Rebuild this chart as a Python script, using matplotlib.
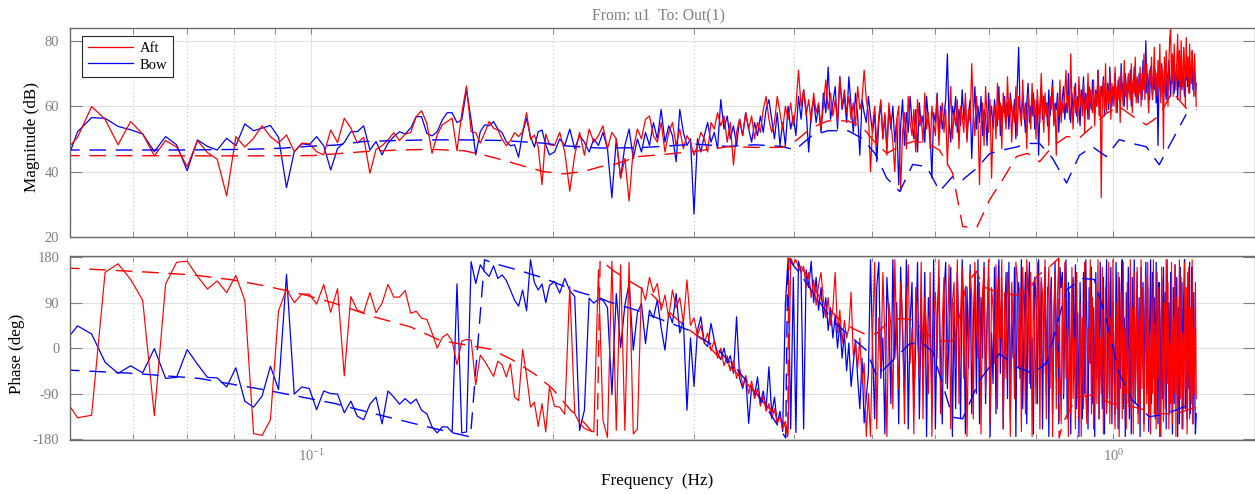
import matplotlib
matplotlib.use("Agg")
import matplotlib.pyplot as plt
from matplotlib.ticker import NullFormatter

plt.rcParams['font.family'] = ['Liberation Serif', 'DejaVu Serif']
plt.rcParams['mathtext.fontset'] = 'custom'
plt.rcParams['mathtext.rm'] = 'Liberation Serif'
plt.rcParams['mathtext.it'] = 'Liberation Serif:italic'
plt.rcParams['axes.unicode_minus'] = False

# --- measured frequency grid (Hz) ---
freq_low = [0.0490, 0.0511, 0.0532, 0.0553, 0.0574, 0.0595, 0.0616, 0.0637, 0.0658, 0.0679,
            0.0700, 0.0721, 0.0742, 0.0763, 0.0784, 0.0805, 0.0826, 0.0847, 0.0868, 0.0889,
            0.0910, 0.0931, 0.0952, 0.0973, 0.0994, 0.1015, 0.1036, 0.1057, 0.1078, 0.1099,
            0.1120, 0.1141, 0.1162, 0.1183, 0.1204, 0.1225, 0.1246, 0.1267, 0.1288, 0.1309,
            0.1330, 0.1351, 0.1372, 0.1393, 0.1414, 0.1435, 0.1456, 0.1477, 0.1498, 0.1519,
            0.1540, 0.1561, 0.1582, 0.1603, 0.1624, 0.1645, 0.1666, 0.1687, 0.1708, 0.1729,
            0.1750, 0.1771, 0.1792, 0.1813, 0.1834, 0.1855, 0.1876, 0.1897, 0.1918, 0.1939,
            0.1960, 0.1981]
freq_mid = [0.201, 0.204, 0.207, 0.210, 0.213, 0.216, 0.219, 0.222, 0.225, 0.228,
            0.231, 0.234, 0.237, 0.240, 0.243, 0.246, 0.249, 0.252, 0.255, 0.258,
            0.261, 0.264, 0.267, 0.270, 0.273, 0.276, 0.279, 0.282, 0.285, 0.288,
            0.291, 0.294, 0.297, 0.300, 0.303, 0.306, 0.309, 0.312, 0.315, 0.318,
            0.321, 0.324, 0.327, 0.330, 0.333, 0.336, 0.339, 0.342, 0.345, 0.348,
            0.351, 0.354, 0.357, 0.360, 0.363, 0.366, 0.369, 0.372, 0.375, 0.378,
            0.381, 0.384, 0.387, 0.390, 0.393, 0.396, 0.399, 0.402, 0.405, 0.408,
            0.411, 0.414, 0.417, 0.420, 0.423, 0.426, 0.429, 0.432, 0.435, 0.438,
            0.441, 0.444, 0.447, 0.450, 0.453, 0.456, 0.459, 0.462, 0.465, 0.468,
            0.471, 0.474, 0.477, 0.480, 0.483, 0.486, 0.489, 0.492, 0.495, 0.498]
freq_high = [0.501, 0.504, 0.507, 0.510, 0.513, 0.516, 0.519, 0.522, 0.525, 0.528,
             0.531, 0.534, 0.537, 0.540, 0.543, 0.546, 0.549, 0.552, 0.555, 0.558,
             0.561, 0.564, 0.567, 0.570, 0.573, 0.576, 0.579, 0.582, 0.585, 0.588,
             0.591, 0.594, 0.597, 0.600, 0.603, 0.606, 0.609, 0.612, 0.615, 0.618,
             0.621, 0.624, 0.627, 0.630, 0.633, 0.636, 0.639, 0.642, 0.645, 0.648,
             0.651, 0.654, 0.657, 0.660, 0.663, 0.666, 0.669, 0.672, 0.675, 0.678,
             0.681, 0.684, 0.687, 0.690, 0.693, 0.696, 0.699, 0.702, 0.705, 0.708,
             0.711, 0.714, 0.717, 0.720, 0.723, 0.726, 0.729, 0.732, 0.735, 0.738,
             0.741, 0.744, 0.747, 0.750, 0.753, 0.756, 0.759, 0.762, 0.765, 0.768,
             0.771, 0.774, 0.777, 0.780, 0.783, 0.786, 0.789, 0.792, 0.795, 0.798,
             0.801, 0.804, 0.807, 0.810, 0.813, 0.816, 0.819, 0.822, 0.825, 0.828,
             0.831, 0.834, 0.837, 0.840, 0.843, 0.846, 0.849, 0.852, 0.855, 0.858,
             0.861, 0.864, 0.867, 0.870, 0.873, 0.876, 0.879, 0.882, 0.885, 0.888,
             0.891, 0.894, 0.897, 0.900, 0.903, 0.906, 0.909, 0.912, 0.915, 0.918,
             0.921, 0.924, 0.927, 0.930, 0.933, 0.936, 0.939, 0.942, 0.945, 0.948,
             0.951, 0.954, 0.957, 0.960, 0.963, 0.966, 0.969, 0.972, 0.975, 0.978,
             0.981, 0.984, 0.987, 0.990, 0.993, 0.996, 0.999, 1.002, 1.005, 1.008,
             1.011, 1.014, 1.017, 1.020, 1.023, 1.026, 1.029, 1.032, 1.035, 1.038,
             1.041, 1.044, 1.047, 1.050, 1.053, 1.056, 1.059, 1.062, 1.065, 1.068,
             1.071, 1.074, 1.077, 1.080, 1.083, 1.086, 1.089, 1.092, 1.095, 1.098,
             1.101, 1.104, 1.107, 1.110, 1.113, 1.116, 1.119, 1.122, 1.125, 1.128,
             1.131, 1.134, 1.137, 1.140, 1.143, 1.146, 1.149, 1.152, 1.155, 1.158,
             1.161, 1.164, 1.167, 1.170, 1.173, 1.176, 1.179, 1.182, 1.185, 1.188,
             1.191, 1.194, 1.197, 1.200, 1.203, 1.206, 1.209, 1.212, 1.215, 1.218,
             1.221, 1.224, 1.227, 1.230, 1.233, 1.236, 1.239, 1.242, 1.245, 1.248,
             1.251, 1.254, 1.257, 1.260, 1.263, 1.266, 1.269]

# --- magnitude (dB) ---
aft_mag_low = [45.5, 50.5, 59.9, 56.0, 48.2, 55.3, 51.5, 44.8, 49.5, 47.5,
               41.5, 49.5, 45.8, 43.8, 32.6, 50.7, 47.5, 50.2, 54.0, 50.7,
               48.7, 51.2, 46.1, 48.7, 48.5, 46.1, 45.1, 52.7, 48.9, 56.3,
               53.3, 48.7, 50.5, 39.5, 46.8, 47.9, 49.7, 51.9, 49.5, 51.5,
               51.9, 56.8, 58.6, 54.8, 45.6, 51.2, 54.3, 55.3, 56.3, 46.4,
               57.8, 66.2, 52.2, 51.9, 48.7, 51.9, 55.3, 53.3, 52.7, 49.9,
               47.9, 49.5, 51.9, 50.7, 52.2, 58.0, 49.9, 51.2, 47.5, 36.0,
               51.5, 48.2]
aft_mag_mid = [48, 52, 46, 34, 45, 52, 45, 53, 49, 51,
               54, 47, 52, 50, 38, 44, 31, 47, 53, 50,
               56, 57, 51, 49, 55, 46, 52, 55, 48, 53,
               47, 51, 49, 45, 48, 52, 50, 46, 55, 53,
               58, 54, 57, 49, 55, 42, 52, 56, 51, 58,
               53, 57, 50, 55, 52, 59, 63, 56, 52, 55,
               63, 58, 53, 60, 56, 61, 54, 60, 71, 60,
               65, 57, 62, 55, 64, 58, 61, 53, 60, 68,
               59, 64, 57, 62, 55, 69, 60, 65, 58, 63,
               56, 61, 54, 66, 59, 62, 71, 62, 58, 40]
aft_mag_high = [54, 60, 48, 57, 62, 50, 58, 45, 61, 55,
                49, 40, 56, 60, 34, 52, 58, 47, 63, 55,
                51, 59, 46, 62, 54, 57, 49, 64, 53, 58,
                47, 60, 55, 51, 63, 48, 57, 61, 52, 59,
                42, 56, 66, 50, 58, 54, 62, 47, 60, 57,
                52, 64, 49, 59, 55, 73, 58, 51, 63, 56,
                36, 54, 61, 48, 66, 57, 52, 62, 38, 55,
                60, 50, 67, 56, 61, 47, 64, 58, 53, 69,
                57, 62, 49, 60, 55, 66, 51, 63, 58, 54,
                68, 56, 61, 47, 64, 59, 53, 67, 57, 62,
                50, 65, 58, 55, 70, 60, 52, 64, 57, 61,
                48, 63, 59, 66, 54, 60, 45, 62, 57, 68,
                55, 61, 58, 64, 71, 59, 63, 56, 76, 60,
                53, 66, 58, 62, 55, 69, 60, 64, 57, 67,
                52, 63, 59, 70, 56, 65, 61, 58, 68, 54,
                64, 60, 71, 57, 66, 32, 62, 68, 59, 73,
                58, 65, 61, 70, 56, 67, 63, 60, 72, 58,
                66, 62, 69, 55, 71, 64, 60, 74, 63, 67,
                59, 70, 65, 62, 73, 58, 68, 64, 75, 61,
                69, 63, 66, 72, 60, 70, 65, 76, 62, 68,
                73, 64, 58, 71, 67, 75, 62, 69, 78, 65,
                70, 63, 74, 66, 79, 61, 72, 68, 47, 75,
                64, 77, 69, 60, 73, 81, 84, 67, 76, 63,
                79, 70, 65, 74, 82, 68, 77, 62, 80, 71,
                66, 78, 73, 60, 81, 69, 75, 64, 79, 70,
                67, 77, 72, 63, 76, 68, 60]
bow_mag_low = [40.0, 52.2, 56.5, 56.3, 53.8, 52.8, 51.5, 46.1, 50.7, 48.2,
               40.3, 49.7, 47.7, 46.6, 50.2, 47.9, 54.6, 52.5, 53.3, 54.1,
               50.5, 35.1, 46.1, 48.5, 48.2, 50.7, 47.9, 40.5, 47.1, 48.9,
               52.2, 52.2, 54.0, 46.6, 49.2, 45.1, 48.7, 50.7, 52.2, 51.5,
               53.3, 56.8, 56.8, 51.7, 50.9, 52.2, 55.8, 58.0, 58.0, 55.0,
               55.8, 65.0, 55.8, 45.1, 52.2, 54.3, 54.0, 55.3, 53.0, 51.9,
               49.2, 47.9, 48.2, 44.4, 51.9, 56.3, 50.7, 47.5, 52.2, 52.7,
               48.2, 45.1]
bow_mag_mid = [46, 50, 48, 53, 47, 51, 49, 46, 50, 48,
               52, 47, 32, 50, 38, 48, 53, 44, 50, 46,
               52, 48, 55, 50, 59, 49, 54, 51, 43, 59,
               52, 48, 50, 27, 50, 46, 51, 55, 49, 52,
               47, 62, 53, 57, 50, 54, 48, 56, 51, 58,
               53, 49, 55, 51, 57, 52, 59, 62, 56, 50,
               58, 48, 55, 48, 60, 53, 57, 51, 63, 56,
               65, 59, 46, 58, 62, 55, 60, 52, 64, 58,
               72, 56, 61, 66, 53, 69, 59, 63, 55, 69,
               60, 52, 64, 57, 45, 62, 58, 55, 63, 57]
bow_mag_high = [52, 58, 43, 55, 61, 50, 57, 47, 59, 53,
                60, 49, 56, 36, 54, 62, 48, 58, 52, 63,
                55, 50, 59, 46, 61, 54, 57, 49, 63, 56,
                52, 38, 58, 55, 64, 50, 60, 53, 57, 62,
                76, 55, 49, 60, 57, 63, 52, 59, 54, 65,
                56, 61, 50, 58, 62, 44, 57, 66, 53, 60,
                55, 63, 51, 59, 57, 48, 64, 56, 60, 53,
                62, 57, 54, 66, 51, 60, 58, 63, 55, 61,
                53, 64, 59, 57, 62, 50, 66, 78, 60, 56,
                63, 58, 52, 61, 67, 55, 60, 57, 64, 53,
                59, 62, 45, 60, 66, 56, 63, 58, 61, 54,
                65, 57, 62, 68, 55, 61, 59, 64, 52, 60,
                57, 63, 66, 56, 61, 58, 70, 60, 55, 64,
                59, 62, 67, 57, 63, 60, 54, 65, 61, 69,
                58, 64, 62, 56, 66, 61, 59, 68, 63, 57,
                65, 60, 71, 62, 58, 66, 63, 69, 57, 64,
                61, 67, 59, 72, 63, 60, 66, 62, 70, 64,
                58, 68, 65, 61, 73, 63, 67, 60, 70, 66,
                62, 69, 64, 71, 60, 67, 65, 72, 63, 68,
                66, 61, 70, 64, 68, 62, 74, 65, 69, 80,
                64, 70, 66, 62, 72, 67, 63, 69, 65, 71,
                61, 68, 48, 66, 70, 63, 73, 67, 64, 71,
                66, 62, 70, 65, 74, 68, 63, 71, 67, 75,
                64, 70, 68, 73, 62, 69, 66, 74, 70, 65,
                72, 67, 63, 71, 68, 75, 66, 70, 64, 72,
                68, 74, 65, 71, 69, 63, 67]

# --- phase (deg) ---
aft_ph_low = [-95, -138, -133, 150, 167, 136, 95, -134, 127, 170,
              172, 142, 117, 133, 110, 144, 94, -169, -173, -142,
              74, 117, 90, 107, 107, 87, 126, 71, 118, -55,
              102, 75, 70, 110, 70, 89, 126, 101, 101, 114,
              69, 73, 59, 57, 30, 0, 21, 28, 14, -33,
              14, 17, 16, -73, -14, -26, -41, -56, -26, -33,
              -57, -31, -97, -104, -3, -54, -117, -107, -155, -110,
              -166, -77]
aft_ph_mid = [-115, -117, -131, 122, -130, -149, -159, -163, -166, 155,
              -143, -177, 172, -163, 165, -163, 170, -170, -160, 120,
              95, 140, 110, 128, 75, 105, 60, 115, 80, 100,
              50, 135, 45, 60, 25, 45, 10, 30, -5, 15,
              -20, 0, -35, -15, -45, -25, -60, -40, -75, -55,
              -90, -65, -100, -80, -115, -95, -125, -110, -140, -120,
              -150, -135, -160, -145, -172, 178, 165, 175, 160, 150,
              162, 120, 150, 100, 135, 85, 125, 150, 95, 60,
              100, 45, 80, 150, 30, 75, 10, 55, 20, 40,
              111, -15, 10, -40, 20, -70, -30, -175, -90, -175]
aft_ph_high = [30, 170, -160, 60, -40, 150, 20, -175, 90, 45,
               -120, 175, 10, -80, 130, 60, -150, 80, 165, -30,
               40, -170, 120, 20, -60, 170, -140, 100, 35, -90,
               150, -175, 60, 110, -20, 175, -130, 50, 140, -70,
               15, 165, -160, 90, 130, -40, 175, -110, 70, 160,
               -60, 120, -175, 30, 150, 100, -140, 170, 60, -20,
               130, -170, 110, 160, -90, 40, 175, -150, 120, 80,
               -30, 165, -120, 140, 20, 175, -160, 110, -60, 150,
               90, -175, 130, 50, -100, 170, 140, -40, 120, -165,
               160, 60, -130, 175, 100, -70, 150, -175, 130, 30,
               -110, 170, 80, -160, 140, 110, -50, 175, -140, 90,
               160, -80, 120, -175, 60, 150, -120, 100, 175, -30,
               -150, 130, -90, 170, -60, 40, -175, 110, -130, 160,
               -100, 20, -160, 150, -70, -140, 90, -175, 60, -120,
               170, -90, -150, 40, -30, 175, -130, 100, -160, -60,
               130, -110, 175, -140, 20, -90, 160, -170, -40, 120,
               -130, -80, 170, -150, 60, -110, 175, -60, -160, 90,
               -120, 150, -175, -20, 110, -140, 170, -90, 40, -160,
               130, -110, -50, 175, -130, 80, -170, 150, -100, -30,
               160, -150, 60, -120, 175, -80, 120, -165, -40, 140,
               -110, 170, -140, 30, -170, 100, -90, 175, -130, 50,
               -160, 150, -60, 120, -175, -100, 160, -30, -145, 90,
               -120, 175, -70, 130, -160, 10, -110, 170, -150, 60,
               -90, 165, -175, 100, -130, -40, 175, -100, 140, -160,
               30, -120, 170, -80, 120, -170, -50, 160, -140, 80,
               -110, 175, -150, 40, -90, 130, -100]
bow_ph_low = [8, 44, 28, -28, -50, -35, -49, -1, -60, -58,
              -3, -32, -58, -59, -77, -39, -105, -117, -95, -36,
              -82, 146, -91, -77, -80, -122, -85, -90, -91, -128,
              -105, -135, -142, -111, -97, -150, -85, -97, -111, -100,
              -110, -101, -123, -130, -156, -168, -156, -156, -167, 127,
              -168, -166, 171, 128, 165, 151, 142, 163, 138, 145,
              134, 115, 95, 83, 115, 74, 175, 130, 115, 127,
              90, 124]
bow_ph_mid = [132, 109, 138, 114, 102, -163, -123, 99, 89, 97,
              95, 80, -92, 108, 1, 85, 128, -4, 70, 88,
              9, 75, 60, 95, 40, -4, 70, 50, 108, 30,
              55, -123, 20, -76, 35, 62, 10, 3, 49, 15,
              -10, -23, 0, -30, -15, -50, 62, -60, -80, -55,
              -149, -75, -95, -57, -110, -85, -120, -37, -130, -97,
              -150, -125, -165, 87, 175, -160, 140, -167, 172, 150,
              -160, 155, 120, 172, 90, 140, 75, 120, 60, 100,
              35, 80, 20, 65, 0, 50, -20, 30, -45, 10,
              -76, -30, 15, -60, -120, -20, -148, -97, -50, 175]
bow_ph_high = [-5, -140, 120, 170, -60, 20, -170, 140, 60, -110,
               175, -20, 90, -150, 160, 30, -90, 175, -160, 50,
               130, -120, 10, 170, -140, 80, -40, 150, -175, 100,
               40, -100, 175, -160, 60, 140, -30, -150, 110, 170,
               -80, 30, 160, -175, 90, -120, 150, 20, -140, 175,
               70, -170, 120, -40, 165, -130, 50, 150, -90, 175,
               -150, 100, -20, 170, -110, 60, 140, -175, 30, -70,
               160, -130, 90, 175, -50, 120, -160, 40, 150, -100,
               170, -140, 70, -20, 160, -175, 110, 130, -60, 175,
               -120, 50, 150, -150, 90, 170, -80, 20, -170, 140,
               100, -110, 175, -40, 130, -160, 60, 160, -90, 120,
               -175, 80, 140, -130, 30, 170, -60, 110, -150, 160,
               120, 150, -100, 60, 175, -140, 130, 20, -170, 100,
               140, -50, 165, -120, 70, -175, 130, 10, -140, 150,
               -90, 175, 40, -160, 120, -30, 160, -110, 80, -175,
               150, -60, 110, -140, 170, 20, -120, 140, -170, 60,
               175, -100, 130, -40, 160, -150, 90, -10, -130, 170,
               50, -160, 140, -80, 120, 175, -120, 60, -175, 110,
               -40, 160, -140, 90, -170, 140, -60, 175, -110, 30,
               150, -130, 100, -175, 160, -20, 130, -150, 70, 170,
               -90, 120, -165, 40, 175, -110, 150, -60, 100, -140,
               170, -30, -150, 130, 60, -175, 140, -100, 160, -50,
               110, -160, 175, -70, 90, -130, 150, 20, -170, 120,
               -110, 165, -40, 140, -175, 80, -150, 160, -20, 130,
               -160, 100, 175, -120, 60, -140, 150, -80, 170, -130,
               40, 160, -150, 110, -60, -170, -130]

# --- identified model responses (dashed) ---
aft_fit_mag_f = [0.049, 0.0828, 0.1004, 0.1162, 0.1280, 0.1408, 0.1548, 0.1639, 0.1735, 0.1838,
                 0.1946, 0.2061, 0.2183, 0.2293, 0.2393, 0.2556, 0.2738, 0.3010, 0.3307, 0.3574,
                 0.3862, 0.4009, 0.4209, 0.4407, 0.4667, 0.4858, 0.5043, 0.5218, 0.5416, 0.5622,
                 0.5852, 0.6074, 0.6304, 0.6489, 0.6754, 0.7011, 0.7276, 0.7574, 0.7816, 0.8091,
                 0.8398, 0.8743, 0.9074, 0.9417, 0.9802, 1.0174, 1.0561, 1.0993, 1.1410, 1.1842,
                 1.2327, 1.2723]
aft_fit_mag = [44.9, 44.8, 44.9, 46.1, 46.6, 46.8, 46.4, 45.1, 43.5, 41.7,
               40.0, 39.3, 40.0, 41.5, 42.3, 44.6, 45.2, 46.2, 47.6, 47.4,
               47.4, 49.2, 53.5, 55.5, 55.5, 53.8, 49.0, 45.6, 47.7, 49.2,
               48.8, 46.5, 39.5, 23.2, 22.8, 31.4, 37.5, 44.6, 45.6, 43.0,
               47.7, 50.7, 50.3, 53.8, 57.8, 59.9, 57.0, 54.3, 57.0, 64.4,
               59.4, 59.0]
bow_fit_mag_f = [0.049, 0.0688, 0.0828, 0.0911, 0.1004, 0.1072, 0.1162, 0.1280, 0.1408, 0.1548,
                 0.1735, 0.1946, 0.2061, 0.2293, 0.2556, 0.2738, 0.3010, 0.3307, 0.3574, 0.3862,
                 0.4009, 0.4209, 0.4407, 0.4667, 0.4858, 0.5043, 0.5218, 0.5416, 0.5622, 0.5852,
                 0.6074, 0.6304, 0.6489, 0.6754, 0.7011, 0.7276, 0.7574, 0.7816, 0.8091, 0.8398,
                 0.8743, 0.9074, 0.9417, 0.9802, 1.0174, 1.0561, 1.0993, 1.1410, 1.1842, 1.2327]
bow_fit_mag = [46.6, 46.6, 46.8, 47.1, 47.8, 48.1, 49.2, 49.5, 49.7, 49.7,
               49.5, 48.7, 47.9, 47.2, 47.3, 47.7, 48.4, 47.7, 48.2, 47.7,
               46.6, 51.0, 52.5, 52.5, 50.2, 45.6, 38.0, 33.9, 42.2, 41.5,
               34.0, 38.5, 37.5, 41.0, 45.5, 46.6, 47.5, 48.6, 48.6, 44.1,
               36.5, 45.0, 47.6, 44.6, 49.8, 48.6, 47.6, 42.1, 49.5, 57.5]
aft_fit_ph_f = [0.049, 0.0617, 0.0712, 0.0798, 0.0877, 0.0984, 0.1072, 0.1196, 0.1329, 0.1449,
                0.1672, 0.1780, 0.1901, 0.1997, 0.2103, 0.2196, 0.2272, 0.2291, 0.2392, 0.2533,
                0.2660, 0.2785, 0.2924, 0.3069, 0.3214, 0.3373, 0.3541, 0.3708, 0.3859, 0.3915,
                0.3927, 0.3939, 0.4064, 0.4183, 0.4305, 0.4468, 0.4598, 0.4732, 0.4926, 0.5070,
                0.5219, 0.5416, 0.5623, 0.5902, 0.6073, 0.6304, 0.6432, 0.6562, 0.6753, 0.6870,
                0.7213, 0.7575, 0.7863, 0.8022, 0.8327, 0.8550, 0.8560, 0.8643, 0.8997, 0.9415,
                0.9972, 1.0561, 1.1410, 1.1979, 1.2724]
aft_fit_ph = [159, 151, 145, 135, 123, 105, 88, 62, 42, 15,
              -2, -23, -52, -80, -122, -150, -178, 175, 151, 126,
              106, 73, 43, 17, -16, -46, -80, -117, -137, -163,
              -178, 178, 165, 135, 100, 70, 50, 39, 26, 29,
              49, 59, 56, 24, 14, 14, 64, 128, 152, 122,
              109, 105, 115, 142, 161, 178, -178, -150, -97, -93,
              -110, -116, -130, -130, -116]
bow_fit_ph_f = [0.049, 0.0599, 0.0724, 0.0877, 0.1072, 0.1088, 0.1220, 0.1396, 0.1579, 0.1644,
                0.1687, 0.1806, 0.1946, 0.2146, 0.2291, 0.2345, 0.2533, 0.2737, 0.2949, 0.3186,
                0.3402, 0.3644, 0.3815, 0.3904, 0.3927, 0.4064, 0.4468, 0.4926, 0.5070, 0.5575,
                0.5785, 0.5953, 0.6304, 0.6487, 0.6811, 0.7213, 0.7575, 0.7930, 0.8255, 0.8743,
                0.9150, 0.9469, 0.9802, 1.0174, 1.0561, 1.1087, 1.1641, 1.2540]
bow_fit_ph = [-43, -50, -60, -83, -110, -113, -133, -156, -176, 175,
              168, 155, 139, 112, 99, 92, 76, 56, 36, 3,
              -44, -103, -153, -178, 178, 148, 54, -5, -56, 9,
              9, -7, -137, -140, -64, -11, -37, -50, -30, 115,
              138, 136, 56, -50, -103, -136, -130, -110]

freq = freq_low + freq_mid + freq_high
aft_mag = aft_mag_low + aft_mag_mid + aft_mag_high
bow_mag = bow_mag_low + bow_mag_mid + bow_mag_high
aft_ph = aft_ph_low + aft_ph_mid + aft_ph_high
bow_ph = bow_ph_low + bow_ph_mid + bow_ph_high

W, H = 1255, 494
TICK_GRAY = '#7f7f7f'
SPINE_GRAY = '#6b6b6b'
DASH = (12, 7)

fig = plt.figure(figsize=(W / 100, H / 100), dpi=100)
ax_mag = fig.add_axes([70 / W, 1 - 237 / H, 1184.5 / W, 209.3 / H])
ax_ph = fig.add_axes([70 / W, 1 - 440 / H, 1184.5 / W, 184.3 / H])

for ax in (ax_mag, ax_ph):
    ax.set_xscale('log')
    ax.set_xlim(0.05, 1.5)
    ax.set_axisbelow(True)
    ax.grid(which='major', color='#e2e2e2', lw=0.8, ls='-')
    ax.grid(which='minor', axis='x', color='#c4c4c4', lw=0.8, ls=(0, (1, 2.5)))
    ax.xaxis.set_minor_formatter(NullFormatter())
    ax.tick_params(which='both', direction='in', top=True, right=True,
                   colors=TICK_GRAY, labelsize=10.5)
    ax.tick_params(axis='y', length=8.5, pad=7.7)
    ax.tick_params(axis='x', which='both', length=4, pad=6)
    for sp in ax.spines.values():
        sp.set_color(SPINE_GRAY)
        sp.set_linewidth(1.0)

# magnitude panel
ax_mag.plot(freq, bow_mag, color='#0000ff', lw=0.9, label='Bow')
ax_mag.plot(freq, aft_mag, color='#ff0000', lw=0.9, label='Aft')
ax_mag.plot(bow_fit_mag_f, bow_fit_mag, color='#0000ff', lw=1.0, dashes=DASH)
ax_mag.plot(aft_fit_mag_f, aft_fit_mag, color='#ff0000', lw=1.0, dashes=DASH)
ax_mag.set_ylim(20, 84)
ax_mag.set_yticks([20, 40, 60, 80])
ax_mag.tick_params(labelbottom=False)

handles, labels = ax_mag.get_legend_handles_labels()
leg = ax_mag.legend([handles[1], handles[0]], [labels[1], labels[0]],
                    loc='upper left', bbox_to_anchor=(0.0101, 0.962), borderaxespad=0,
                    fontsize=10.5, handlelength=3.1, handletextpad=0.45, labelspacing=0.25,
                    borderpad=0.4, fancybox=False, framealpha=1, edgecolor='#262626')
leg.get_frame().set_linewidth(0.8)

# phase panel
ax_ph.plot(freq, bow_ph, color='#0000ff', lw=0.9)
ax_ph.plot(freq, aft_ph, color='#ff0000', lw=0.85)
ax_ph.plot(bow_fit_ph_f, bow_fit_ph, color='#0000ff', lw=1.0, dashes=DASH)
ax_ph.plot(aft_fit_ph_f, aft_fit_ph, color='#ff0000', lw=1.0, dashes=DASH)
ax_ph.set_ylim(-182, 183)
ax_ph.set_yticks([-180, -90, 0, 90, 180])

# labels
fig.text(658 / W, 1 - 16.3 / H, 'From: u1  To: Out(1)', ha='center', va='center',
         fontsize=11.3, color=TICK_GRAY)
fig.text(31.7 / W, 1 - 137 / H, 'Magnitude (dB)', rotation=90, ha='center', va='center',
         fontsize=12.3, color='black')
fig.text(16.7 / W, 1 - 354 / H, 'Phase (deg)', rotation=90, ha='center', va='center',
         fontsize=12.3, color='black')
fig.text(657 / W, 1 - 481 / H, 'Frequency  (Hz)', ha='center', va='center',
         fontsize=12.3, color='black')

fig.savefig('out.png', dpi=100)
